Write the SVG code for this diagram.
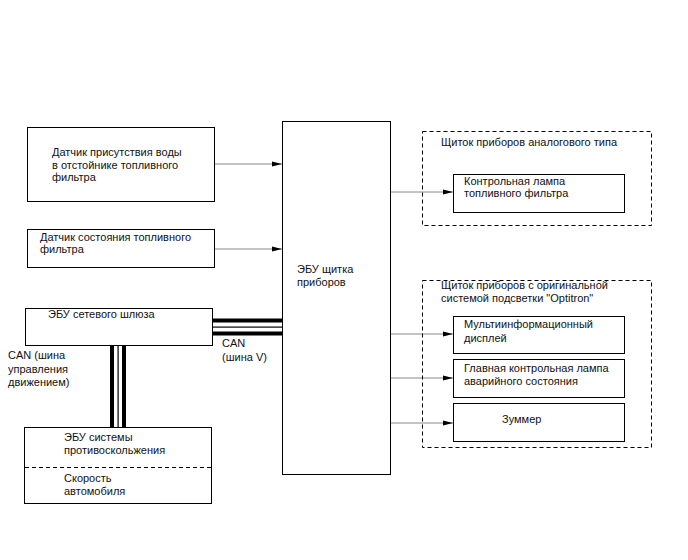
<svg xmlns="http://www.w3.org/2000/svg" width="688" height="560" viewBox="0 0 688 560">
<style>
text { font-family: "Liberation Sans", Arial, sans-serif; font-size: 11px; fill: #111; }
.box { fill: #fff; stroke: #000; stroke-width: 1; }
.dash { fill: none; stroke: #000; stroke-width: 1; stroke-dasharray: 4 3; }
.arr { stroke: #888; stroke-width: 1; fill: none; marker-end: url(#ah); }
</style>
<defs>
<marker id="ah" markerWidth="10" markerHeight="6" refX="10" refY="3" orient="auto" markerUnits="userSpaceOnUse">
<path d="M0,0.5 L10,3 L0,5.5 Z" fill="#000"/>
</marker>
</defs>
<rect width="688" height="560" fill="#fff"/>

<g id="connectors">
<line class="arr" x1="215" y1="164" x2="282" y2="164"/>
<line class="arr" x1="215" y1="249" x2="282" y2="249"/>
<line class="arr" x1="390" y1="192" x2="453" y2="192"/>
<line class="arr" x1="390" y1="334" x2="453" y2="334"/>
<line class="arr" x1="390" y1="378" x2="453" y2="378"/>
<line class="arr" x1="390" y1="423" x2="453" y2="423"/>
<g id="can-v">
<rect x="213" y="318.5" width="69" height="4" fill="#000"/>
<rect x="213" y="326.5" width="69" height="1.2" fill="#000"/>
<rect x="213" y="331.5" width="69" height="4" fill="#000"/>
</g>
<g id="can-drive">
<rect x="110" y="345" width="4" height="82" fill="#000"/>
<rect x="117.5" y="345" width="1.2" height="82" fill="#000"/>
<rect x="122" y="345" width="4" height="82" fill="#000"/>
</g>
</g>

<g id="sensor-water">
<rect class="box" x="27.5" y="127.5" width="187" height="74"/>
<text x="52" y="156">Датчик присутствия воды</text>
<text x="52" y="168.5">в отстойнике топливного</text>
<text x="52" y="181">фильтра</text>
</g>

<g id="sensor-filter">
<rect class="box" x="27.5" y="229.5" width="187" height="38"/>
<text x="40" y="241">Датчик состояния топливного</text>
<text x="40" y="253">фильтра</text>
</g>

<g id="gateway-ecu">
<rect class="box" x="25.5" y="308.5" width="187" height="37"/>
<text x="48" y="318">ЭБУ сетевого шлюза</text>
</g>

<g id="label-can-v">
<text x="222" y="347">CAN</text>
<text x="222" y="361">(шина V)</text>
</g>

<g id="label-can-drive">
<text x="8" y="359">CAN (шина</text>
<text x="8" y="373">управления</text>
<text x="8" y="386">движением)</text>
</g>

<g id="skid-ecu">
<rect class="box" x="24.5" y="427.5" width="187" height="76"/>
<line x1="25" y1="467.5" x2="211" y2="467.5" stroke="#000" stroke-dasharray="4 3"/>
<text x="64" y="441">ЭБУ системы</text>
<text x="64" y="454">противоскольжения</text>
<text x="64" y="482">Скорость</text>
<text x="64" y="495">автомобиля</text>
</g>

<g id="meter-ecu">
<rect class="box" x="282.5" y="121.5" width="108" height="353"/>
<text x="297" y="273">ЭБУ щитка</text>
<text x="297" y="285.5">приборов</text>
</g>

<g id="analog-cluster">
<rect class="dash" x="422.5" y="131.5" width="229" height="94"/>
<text x="441" y="145.5">Щиток приборов аналогового типа</text>
</g>

<g id="fuel-filter-lamp">
<rect class="box" x="453.5" y="174.5" width="171" height="38"/>
<text x="464" y="185">Контрольная лампа</text>
<text x="464" y="197">топливного фильтра</text>
</g>

<g id="optitron-cluster">
<rect class="dash" x="422.5" y="280.5" width="229" height="167"/>
<text x="441" y="289">Щиток приборов с оригинальной</text>
<text x="441" y="302">системой подсветки "Optitron"</text>
</g>

<g id="multi-display">
<rect class="box" x="453.5" y="316.5" width="171" height="37"/>
<text x="464" y="328">Мультиинформационный</text>
<text x="464" y="342">дисплей</text>
</g>

<g id="master-warning">
<rect class="box" x="453.5" y="359.5" width="171" height="38"/>
<text x="464" y="372">Главная контрольная лампа</text>
<text x="464" y="385">аварийного состояния</text>
</g>

<g id="buzzer">
<rect class="box" x="453.5" y="403.5" width="171" height="38"/>
<text x="502" y="423">Зуммер</text>
</g>
</svg>
